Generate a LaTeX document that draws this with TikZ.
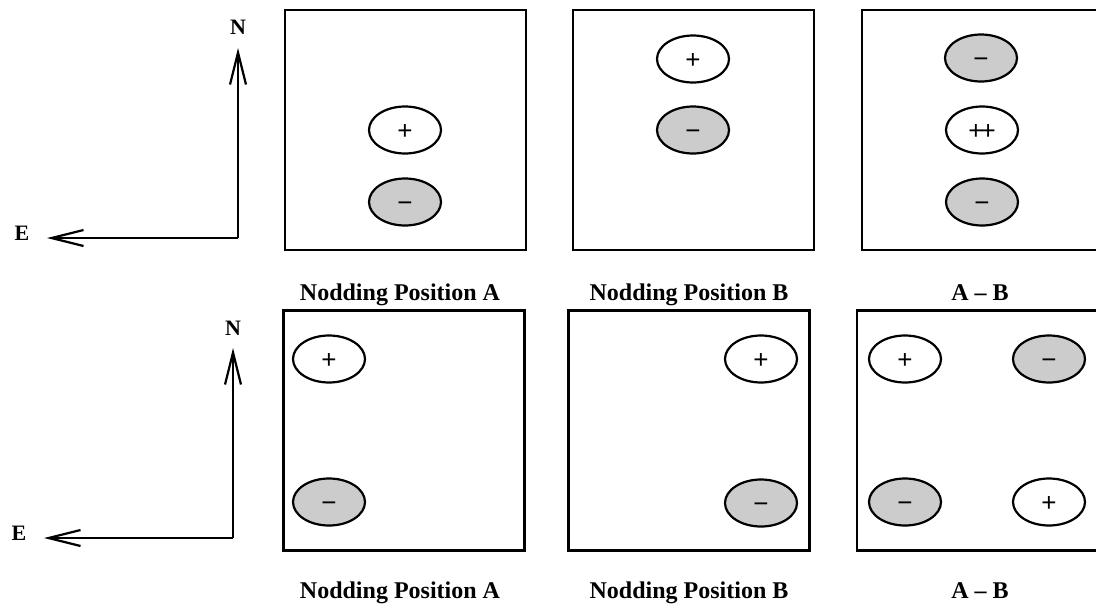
\documentclass[tikz,border=0pt]{standalone}
\usepackage{fontspec}
\setmainfont{Liberation Serif}
\newfontfamily\signfont{Liberation Sans}
\usetikzlibrary{shapes.geometric,arrows.meta}
\definecolor{lobegray}{gray}{0.8}

\begin{document}
\begin{tikzpicture}[x=1pt,y=-1pt,line width=2.2pt,
    frame/.style={draw,rectangle,minimum width=241pt,minimum height=240pt,
      inner sep=0pt,line width=2.5pt},
    poslobe/.style={draw,ellipse,minimum width=72pt,minimum height=47pt,
      inner sep=0pt,text height=18.2pt,text depth=0pt,
      font=\signfont\fontsize{26}{26}\selectfont},
    neglobe/.style={poslobe,fill=lobegray},
    caption/.style={anchor=base,font=\bfseries\fontsize{24}{28}\selectfont},
    dirlabel/.style={font=\bfseries\fontsize{22}{26}\selectfont},
    axis/.style={-{Straight Barb[length=32pt,width=16pt]}}]
  \useasboundingbox (0,0) rectangle (1096,603);

  % compass, top row
  \coordinate (c1) at (238,238);
  \coordinate (n1) at (238,48);
  \coordinate (e1) at (47,238);
  \node[dirlabel] (N1) at (238,27) {N};
  \node[dirlabel] (E1) at (22,233) {E};

  % compass, bottom row
  \coordinate (c2) at (233,538);
  \coordinate (n2) at (233,348);
  \coordinate (e2) at (44,538);
  \node[dirlabel] (N2) at (233,328) {N};
  \node[dirlabel] (E2) at (19,533) {E};

  \foreach \x in {1,2} {
    \draw[axis] (c\x)--(n\x);
    \draw[axis] (c\x)--(e\x);
  }

  % top row: nodding along N-S
  \node[frame] (boxA1) at (405.5,130) {};
  \node[frame] (boxB1) at (693.5,130) {};
  \node[frame] (boxD1) at (982.5,130) {};

  \node[poslobe] (pA1) at (405,130) {+};
  \node[neglobe] (mA1) at (405,202) {−};
  \node[poslobe] (pB1) at (693,59) {+};
  \node[neglobe] (mB1) at (693,130) {−};
  \node[neglobe] (mD1a) at (981,58) {−};
  \node[poslobe] (pD1) at (982,130) {+\kern-3pt+};
  \node[neglobe] (mD1b) at (982,202) {−};

  \node[caption] (capA1) at (400,300) {Nodding Position A};
  \node[caption] (capB1) at (689,300) {Nodding Position B};
  \node[caption] (capD1) at (980,300) {A – B};

  % bottom row: nodding along E-W
  \node[frame] (boxA2) at (404,430.5) {};
  \node[frame] (boxB2) at (689,430.5) {};
  \node[frame] (boxD2) at (977.5,430.5) {};

  \node[poslobe] (pA2) at (329,359) {+};
  \node[neglobe] (mA2) at (329,502) {−};
  \node[poslobe] (pB2) at (761,359) {+};
  \node[neglobe] (mB2) at (761,503) {−};
  \node[poslobe] (pD2a) at (905,359) {+};
  \node[neglobe] (mD2a) at (1049,359) {−};
  \node[neglobe] (mD2b) at (905,502) {−};
  \node[poslobe] (pD2b) at (1049,502) {+};

  \node[caption] (capA2) at (400,598) {Nodding Position A};
  \node[caption] (capB2) at (689,598) {Nodding Position B};
  \node[caption] (capD2) at (980,598) {A – B};
\end{tikzpicture}
\end{document}
